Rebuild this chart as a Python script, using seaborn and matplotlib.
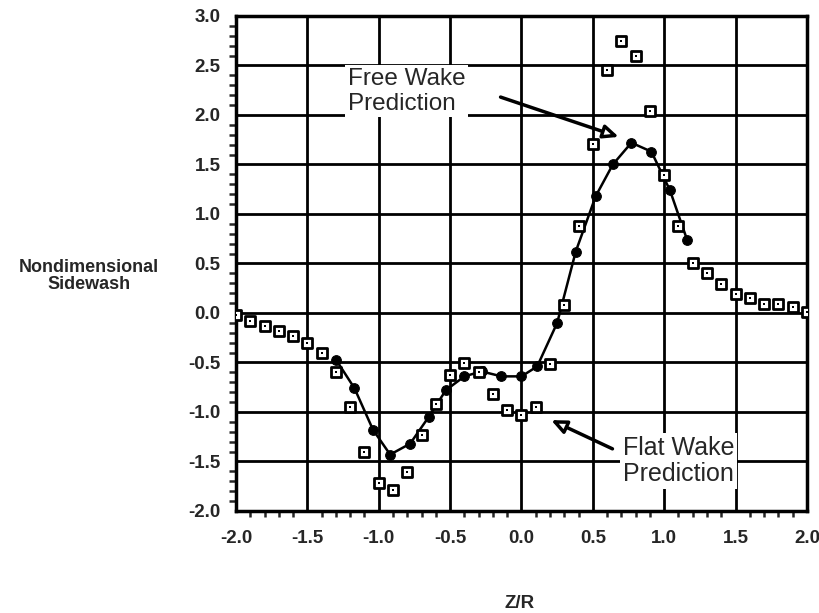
import matplotlib
matplotlib.use("Agg")
import matplotlib.pyplot as plt
import seaborn as sns
import pandas as pd
from matplotlib.ticker import MultipleLocator, FormatStrFormatter

# Experimental data (open squares)
exp_x = [-2.0, -1.9, -1.8, -1.7, -1.6, -1.5, -1.4, -1.3, -1.2, -1.1, -1.0,
         -0.9, -0.8, -0.7, -0.6, -0.5, -0.4, -0.3, -0.2, -0.1, 0.0,
         0.1, 0.2, 0.3, 0.4, 0.5, 0.6, 0.7, 0.8, 0.9, 1.0,
         1.1, 1.2, 1.3, 1.4, 1.5, 1.6, 1.7, 1.8, 1.9, 2.0]
exp_y = [-0.02, -0.08, -0.13, -0.18, -0.23, -0.30, -0.40, -0.60, -0.95, -1.40, -1.72,
         -1.79, -1.61, -1.23, -0.92, -0.63, -0.51, -0.60, -0.82, -0.98, -1.03,
         -0.95, -0.52, 0.08, 0.88, 1.71, 2.45, 2.75, 2.60, 2.04, 1.39,
         0.88, 0.50, 0.40, 0.29, 0.19, 0.15, 0.09, 0.09, 0.06, 0.01]

# Free wake prediction (filled circles with line)
fw_x = [-1.30, -1.17, -1.04, -0.92, -0.78, -0.65, -0.53, -0.40, -0.28, -0.14,
        0.0, 0.11, 0.25, 0.38, 0.52, 0.64, 0.77, 0.91, 1.04, 1.16]
fw_y = [-0.47, -0.76, -1.18, -1.43, -1.32, -1.05, -0.78, -0.64, -0.59, -0.64,
        -0.64, -0.54, -0.10, 0.62, 1.18, 1.50, 1.72, 1.63, 1.24, 0.74]

x_ticks = [-2.0, -1.5, -1.0, -0.5, 0.0, 0.5, 1.0, 1.5, 2.0]
y_ticks = [-2.0, -1.5, -1.0, -0.5, 0.0, 0.5, 1.0, 1.5, 2.0, 2.5, 3.0]

sns.set_style("white")
plt.rcParams['font.family'] = ['Liberation Sans', 'DejaVu Sans']
plt.rcParams['axes.unicode_minus'] = False

fig = plt.figure(figsize=(8.2, 6.13), dpi=100)
ax = fig.add_axes([0.2878, 0.1664, 0.6963, 0.8075])

exp_df = pd.DataFrame({"x": exp_x, "y": exp_y})
fw_df = pd.DataFrame({"x": fw_x, "y": fw_y})

sns.lineplot(data=fw_df, x="x", y="y", ax=ax, color="black", lw=1.8, sort=False,
             marker="o", markersize=7, markerfacecolor="black",
             markeredgecolor="black", zorder=4)
sns.scatterplot(data=exp_df, x="x", y="y", ax=ax, marker="s", s=55,
                facecolor="white", edgecolor="black", linewidth=2.0, zorder=5)
sns.scatterplot(data=exp_df, x="x", y="y", ax=ax, marker="s", s=4,
                color="black", linewidth=0, zorder=6)

ax.set_xlim(-2.0, 2.0)
ax.set_ylim(-2.0, 3.0)
ax.set_xticks(x_ticks)
ax.set_yticks(y_ticks)
ax.xaxis.set_minor_locator(MultipleLocator(0.1))
ax.yaxis.set_minor_locator(MultipleLocator(0.1))
ax.xaxis.set_major_formatter(FormatStrFormatter('%.1f'))
ax.yaxis.set_major_formatter(FormatStrFormatter('%.1f'))
ax.grid(True, which="major", color="black", lw=2.0)
ax.set_axisbelow(True)
for s in ax.spines.values():
    s.set_color("black")
    s.set_linewidth(2.5)

ax.tick_params(axis="y", which="major", direction="out", length=8, width=2,
               labelsize=13.5, pad=3)
ax.tick_params(axis="y", which="minor", direction="out", length=5, width=1.8, left=True)
ax.tick_params(axis="x", which="major", direction="out", length=6, width=2,
               labelsize=13.5, pad=8)
ax.tick_params(axis="x", which="minor", direction="out", length=4, width=1.8, bottom=True)
for lab in ax.get_xticklabels() + ax.get_yticklabels():
    lab.set_fontweight("bold")

ax.set_xlabel("")
ax.set_ylabel("")

fig.text(0.108, 0.55, "Nondimensional\nSidewash", ha="center", va="center",
         fontsize=13, fontweight="bold", linespacing=1.05)
fig.text(0.634, 0.016, "Z/R", ha="center", va="center", fontsize=13.5, fontweight="bold")

# Annotations
ax.text(-1.215, 2.24, "Free Wake\nPrediction", ha="left", va="center",
        fontsize=17.5, linespacing=1.15, zorder=7,
        bbox=dict(facecolor="white", edgecolor="none", pad=2))
ax.annotate("", xy=(0.70, 1.77), xytext=(-0.165, 2.19),
            arrowprops=dict(arrowstyle="-|>,head_length=0.9,head_width=0.4",
                            lw=2.5, color="black", fc="white"), zorder=7)

ax.text(0.711, -1.495, "Flat Wake\nPrediction", ha="left", va="center",
        fontsize=18, linespacing=1.15, zorder=7,
        bbox=dict(facecolor="white", edgecolor="none", pad=2))
ax.annotate("", xy=(0.19, -1.07), xytext=(0.655, -1.384),
            arrowprops=dict(arrowstyle="-|>,head_length=0.9,head_width=0.4",
                            lw=2.5, color="black", fc="white"), zorder=7)

fig.savefig("out.png", dpi=100)
